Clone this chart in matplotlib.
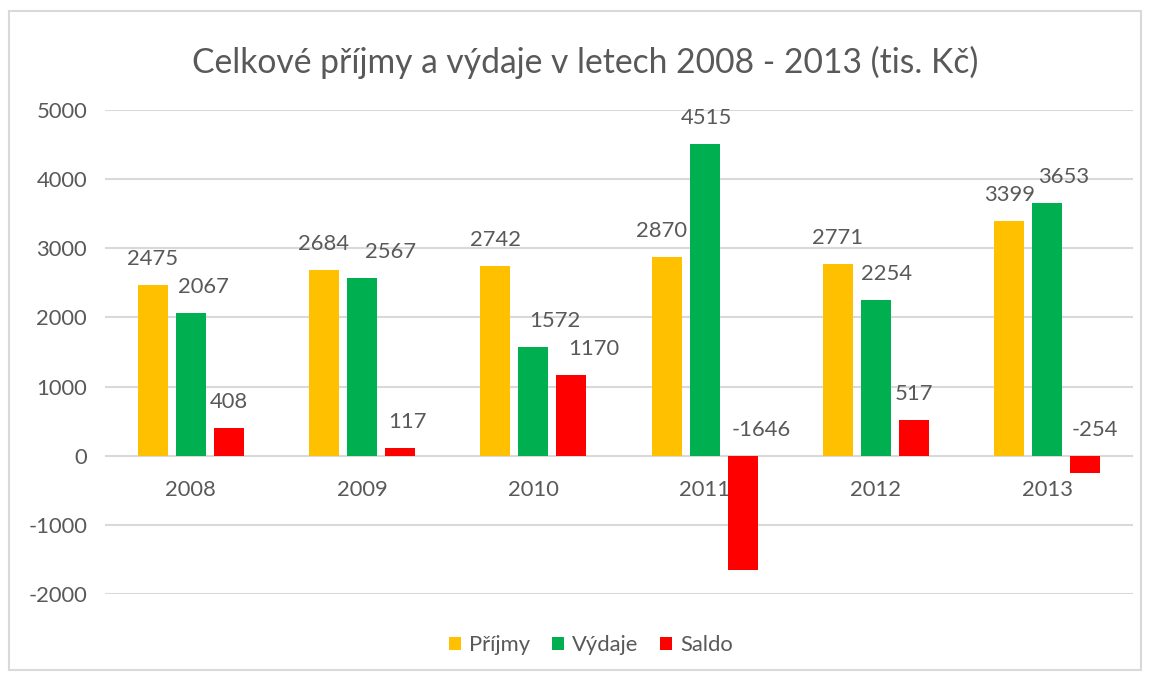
import numpy as np
import matplotlib
matplotlib.use('Agg')
import matplotlib.pyplot as plt
from matplotlib.patches import Rectangle

plt.rcParams['font.family'] = ['Lato', 'DejaVu Sans']

# data
years = ['2008', '2009', '2010', '2011', '2012', '2013']
prijmy = [2475, 2684, 2742, 2870, 2771, 3399]
vydaje = [2067, 2567, 1572, 4515, 2254, 3653]
saldo = [408, 117, 1170, -1646, 517, -254]
series = ['Příjmy', 'Výdaje', 'Saldo']
colors = ['#FFC000', '#00B050', '#FF0000']
yticks = [-2000, -1000, 0, 1000, 2000, 3000, 4000, 5000]

# horizontal nudges of the value labels (px), as Excel moved them apart
label_dx = [
    [0, 0, 0, -5, 0, 0],
    [13, 29, 21, 2, 11, 16],
    [0, 7, 22, 19, 0, 10],
]

txt = '#595959'
grid = '#D9D9D9'
fs = 15.8
px = 72 / 100  # points per pixel

fig = plt.figure(figsize=(11.51, 6.77), dpi=100)
# chart border
fig.patches.append(Rectangle((9 / 1151, 1 - 670 / 677), 1132 / 1151, 659 / 677,
                             transform=fig.transFigure, fill=False,
                             edgecolor='#D9D9D9', linewidth=1.5))

ax = fig.add_axes([105 / 1151, 1 - 594 / 677, 1028 / 1151, 484 / 677])
x = np.arange(len(years))
w = 0.175
off = 0.222

for i, (vals, name, c) in enumerate(zip([prijmy, vydaje, saldo], series, colors)):
    pos = x + (i - 1) * off
    ax.bar(pos, vals, width=w, color=c, label=name, zorder=3)
    for j, (p, v) in enumerate(zip(pos, vals)):
        ax.annotate(str(v), (p, max(v, 0)),
                    xytext=(label_dx[i][j] * px, 26 * px), textcoords='offset points',
                    ha='center', va='center', fontsize=fs, color=txt)

ax.set_ylim(-2000, 5000)
ax.set_xlim(-0.5, len(years) - 0.5)
ax.set_yticks(yticks)
ax.set_yticklabels([str(t) for t in yticks], fontsize=fs, color=txt)
ax.tick_params(axis='y', length=0, pad=18 * px)
ax.set_xticks([])
for t in yticks:
    ax.axhline(t, color=grid, linewidth=1.5, zorder=1)
for s in ax.spines.values():
    s.set_visible(False)

# category labels next to the zero line
for xi, yr in zip(x, years):
    ax.annotate(yr, (xi, 0), xytext=(0, -34 * px), textcoords='offset points',
                ha='center', va='center', fontsize=fs, color=txt, zorder=2)

fig.text(585.5 / 1151, 1 - 62 / 677, 'Celkové příjmy a výdaje v letech 2008 - 2013 (tis. Kč)',
         ha='center', va='center', fontsize=24.2, color=txt)

fig.legend(loc='center', bbox_to_anchor=(591 / 1151, 1 - 645 / 677), ncol=3,
           frameon=False, fontsize=fs, labelcolor=txt, handlelength=0.55,
           handleheight=0.55, handletextpad=0.35, columnspacing=1.0)

fig.savefig('out.png', dpi=100)
